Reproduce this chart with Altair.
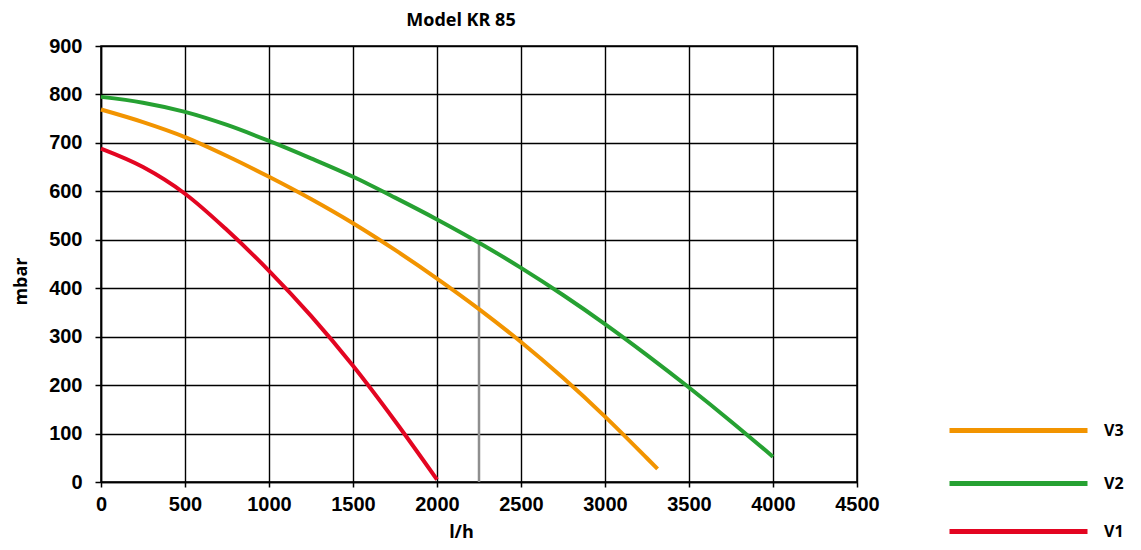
import altair as alt
import pandas as pd

# ---- data ----
flow_v1 = [0, 250, 500, 750, 1000, 1250, 1500, 1750, 2000]
mbar_v1 = [688, 650, 595, 520, 436, 343, 240, 126, 5]

flow_v3 = [0, 250, 500, 750, 1000, 1250, 1500, 1750, 2000, 2250, 2500, 2750, 3000, 3250, 3313]
mbar_v3 = [769, 743, 712, 673, 630, 584, 534, 479, 420, 357, 289, 215, 135, 49, 27]

flow_v2 = [0, 250, 500, 750, 1000, 1250, 1500, 1750, 2000, 2250, 2500, 2750, 3000, 3250, 3500, 3750, 4000]
mbar_v2 = [795, 783, 764, 737, 704, 668, 630, 587, 542, 494, 442, 386, 326, 262, 195, 125, 52]

series_names = ["V3", "V2", "V1"]
series_colors = ["#F29400", "#26A132", "#E30521"]

marker_flow = [2250]
marker_low = [0]
marker_high = [494]

x_ticks = [0, 500, 1000, 1500, 2000, 2500, 3000, 3500, 4000, 4500]
y_ticks = [0, 100, 200, 300, 400, 500, 600, 700, 800, 900]

series_data = {"V1": (flow_v1, mbar_v1), "V3": (flow_v3, mbar_v3), "V2": (flow_v2, mbar_v2)}
legend_y = {"V3": 313, "V2": 366, "V1": 414}

marker_df = pd.DataFrame({"flow": marker_flow, "low": marker_low, "high": marker_high})

x_scale = alt.Scale(domain=[0, 4500], nice=False, zero=False)
y_scale = alt.Scale(domain=[0, 900], nice=False)

x_axis = alt.Axis(values=x_ticks, format="d", title="l/h", tickSize=5, labelPadding=7,
                  labelFlush=False,
                  titleX=360, titleY=50, titleAnchor="middle", titleAlign="center",
                  titleBaseline="middle", titleFontSize=18)
y_axis = alt.Axis(values=y_ticks, format="d", title="mbar", tickSize=6, labelPadding=13,
                  labelFlush=False,
                  titleX=-80, titleY=235, titleAlign="center", titleBaseline="middle",
                  titleAngle=270, titleFontSize=18)

marker = alt.Chart(marker_df).mark_rule(color="#8f8f8f", strokeWidth=2.5).encode(
    x=alt.X("flow:Q", scale=x_scale, axis=x_axis),
    y=alt.Y("low:Q", scale=y_scale, axis=y_axis),
    y2="high:Q",
)

layers = [marker]
for name in ["V1", "V3", "V2"]:
    xs, ys = series_data[name]
    d = pd.DataFrame({"series": name, "flow": xs, "mbar": ys, "idx": list(range(len(xs)))})
    col = series_colors[series_names.index(name)]
    layers.append(
        alt.Chart(d).mark_line(strokeWidth=4, interpolate="monotone", strokeCap="butt").encode(
            x=alt.X("flow:Q", scale=x_scale, axis=x_axis),
            y=alt.Y("mbar:Q", scale=y_scale, axis=y_axis),
            color=alt.Color("series:N",
                            scale=alt.Scale(domain=[name], range=[col]),
                            legend=alt.Legend(title=None, orient="none", legendX=846,
                                              legendY=legend_y[name],
                                              symbolType="stroke", symbolSize=19044,
                                              symbolStrokeWidth=5,
                                              labelFont="Open Sans", labelFontWeight="bold",
                                              labelFontSize=16, labelColor="#000",
                                              labelOffset=14)),
            order="idx:Q",
        )
    )

chart = (
    alt.layer(*layers)
    .resolve_scale(color="independent")
    .properties(
        width=756, height=436,
        title=alt.TitleParams("Model KR 85", font="Open Sans", fontSize=18, fontWeight="bold",
                              color="#000", anchor="middle", dx=-18, offset=6),
        autosize=alt.AutoSizeParams(type="none"),
        padding={"left": 93, "top": 38, "right": 275, "bottom": 60},
        background="white",
    )
    .configure_view(stroke="#000", strokeWidth=1.5)
    .configure_axis(
        labelFont="Liberation Sans", labelFontSize=20, labelFontWeight="bold", labelColor="#000",
        tickColor="#000", tickWidth=1.5, domainColor="#000", domainWidth=1.5,
        gridColor="#000", gridWidth=1.4, gridOpacity=1, grid=True,
        titleFont="Open Sans", titleFontWeight="bold", titleColor="#000",
    )
)

chart.save("out.html", embed_options={"renderer": "svg", "actions": False})
